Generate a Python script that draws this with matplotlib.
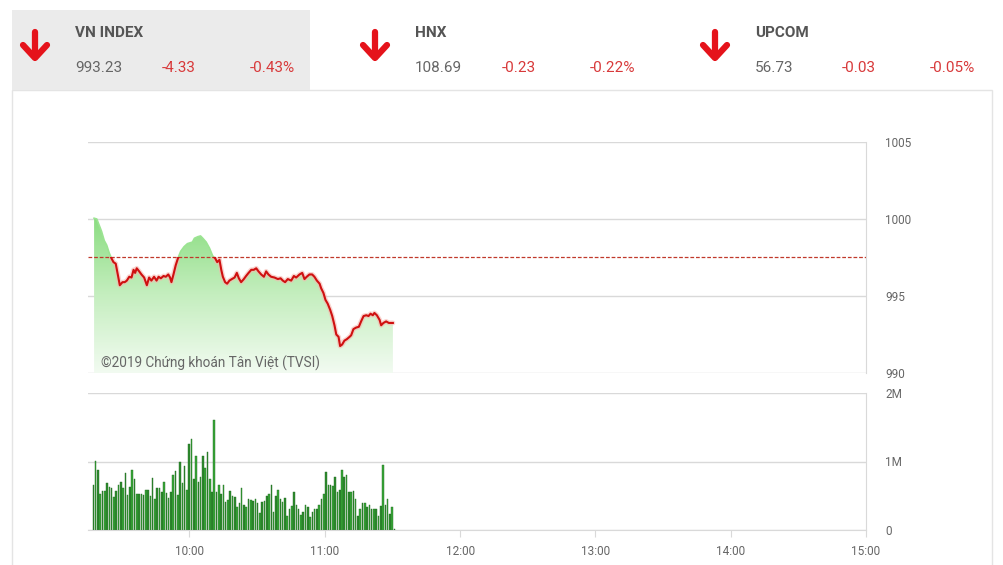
import matplotlib.pyplot as plt
import numpy as np
from matplotlib.patches import Rectangle, Polygon
from matplotlib.lines import Line2D
from matplotlib.colors import LinearSegmentedColormap

plt.rcParams['font.family'] = ['Roboto', 'DejaVu Sans']

# header boxes
idx_names = ['VN INDEX', 'HNX', 'UPCOM']
idx_values = ['993.23', '108.69', '56.73']
idx_changes = ['-4.33', '-0.23', '-0.03']
idx_pcts = ['-0.43%', '-0.22%', '-0.05%']

ref_price = 997.56

# price line (minutes since 9:00, index value)
price_time = [17.7, 18.9, 19.95, 21.0, 22.2, 23.3, 24.4, 25.4, 26.3, 27.3, 28.4, 29.1,
              30.3, 31.3, 32.2, 33.3, 34.3, 35.2, 35.9, 36.6, 37.7, 38.7, 39.9, 41.1,
              42.1, 43.1, 44.3, 45.4, 46.3, 47.3, 48.5, 49.5, 50.6, 51.4, 52.0, 52.9,
              53.9, 55.0, 56.1, 57.6, 59.1, 61.3, 62.2, 63.7, 64.9, 65.9, 67.4, 68.9,
              70.3, 71.4, 72.3, 73.3, 74.1, 74.8, 75.8, 76.7, 77.7, 78.8, 80.0, 81.0,
              81.9, 82.9, 84.1, 85.1, 86.2, 87.4, 88.5, 89.6, 90.6, 91.8, 93.0, 94.0,
              95.0, 96.2, 97.7, 99.2, 100.4, 101.4, 102.4, 103.6, 105.1, 106.3, 107.3,
              108.8, 110.0, 111.0, 112.0, 113.2, 114.4, 115.4, 116.5, 117.7, 118.4,
              119.4, 120.3, 121.3, 122.4, 123.3, 124.3, 125.1, 126.1, 126.8, 127.7,
              128.7, 129.8, 131.0, 131.7, 132.7, 133.9, 135.1, 136.1, 137.2, 138.4,
              139.4, 140.3, 141.3, 142.0, 143.1, 144.3, 145.0, 146.0, 147.2, 148.4, 150.2]
price_val = [1000.05, 1000.0, 999.6, 999.2, 998.6, 998.3, 997.8, 997.45, 997.2, 997.1, 996.25, 995.7,
             995.9, 995.9, 996.0, 996.25, 996.2, 996.7, 996.5, 996.8, 996.6, 996.4, 996.2, 995.7,
             996.2, 996.0, 996.25, 996.0, 996.25, 996.15, 996.3, 996.25, 996.4, 996.2, 995.9, 996.4,
             997.0, 997.5, 997.9, 998.2, 998.4, 998.5, 998.75, 998.85, 998.9, 998.75, 998.5, 998.1,
             997.6, 997.45, 997.2, 997.35, 996.7, 996.25, 995.9, 995.8, 996.0, 996.1, 996.2, 996.5,
             996.15, 995.9, 996.1, 996.3, 996.5, 996.7, 996.7, 996.8, 996.6, 996.4, 996.25, 996.6,
             996.4, 996.25, 996.2, 996.1, 996.15, 996.0, 995.9, 996.1, 996.0, 996.3, 996.2,
             996.4, 996.5, 996.1, 996.25, 996.4, 996.4, 996.25, 996.0, 995.8, 995.5,
             995.2, 994.75, 994.5, 994.1, 993.7, 993.1, 992.5, 992.35, 991.75, 991.85,
             992.1, 992.2, 992.35, 992.45, 992.85, 992.95, 993.0, 993.35, 993.7, 993.75,
             993.7, 993.85, 993.75, 993.9, 993.75, 993.45, 993.1, 993.25, 993.35, 993.25, 993.25]

# volume bars (millions), 9:17 -> 11:30
volume = [0.65, 1.01, 0.88, 0.53, 0.57, 0.57, 0.69, 0.63, 0.61, 0.48, 0.57, 0.66, 0.70,
          0.61, 0.83, 0.51, 0.63, 0.88, 0.74, 0.53, 0.52, 0.53, 0.51, 0.59, 0.59, 0.50,
          0.76, 0.45, 0.61, 0.61, 0.55, 0.70, 0.54, 0.47, 0.56, 0.80, 0.86, 0.51, 1.00,
          0.69, 0.94, 0.59, 1.26, 1.33, 0.74, 1.08, 0.70, 0.78, 1.08, 0.91, 1.14, 0.74,
          0.55, 1.60, 0.56, 0.66, 0.53, 0.65, 0.41, 0.44, 0.57, 0.49, 0.48, 0.33, 0.39,
          0.61, 0.37, 0.33, 0.45, 0.44, 0.42, 0.45, 0.39, 0.25, 0.41, 0.42, 0.50, 0.53,
          0.66, 0.27, 0.49, 0.59, 0.45, 0.41, 0.47, 0.21, 0.31, 0.35, 0.55, 0.37, 0.31,
          0.22, 0.26, 0.36, 0.34, 0.19, 0.27, 0.30, 0.30, 0.37, 0.45, 0.53, 0.85, 0.66,
          0.66, 0.64, 0.78, 0.55, 0.58, 0.87, 0.78, 0.81, 0.55, 0.56, 0.57, 0.45, 0.21,
          0.30, 0.40, 0.40, 0.33, 0.37, 0.31, 0.30, 0.30, 0.21, 0.35, 0.95, 0.36, 0.45,
          0.23, 0.34, 0.02]
vol_start, vol_end = 17.4, 150.9

time_ticks = [60, 120, 180, 240, 300, 360]
time_labels = ['10:00', '11:00', '12:00', '13:00', '14:00', '15:00']
price_ticks = [990, 995, 1000, 1005]
vol_ticks = [0, 1, 2]
vol_labels = ['0', '1M', '2M']

W, H = 1004, 565
fig = plt.figure(figsize=(W / 100, H / 100), dpi=100)


def fx(px):
    return px / W


def fy(py):
    return 1 - py / H


# panel frame + header
fig.add_artist(Rectangle((fx(12), fy(566)), fx(980), (566 - 90) / H, transform=fig.transFigure,
                         fill=False, ec='#e4e4e4', lw=1))
fig.add_artist(Rectangle((fx(12), fy(90)), fx(298), 80 / H, transform=fig.transFigure,
                         fc='#ebebeb', ec='none'))

red_arrow = '#e5131b'
for i in range(3):
    x0 = 35 + 340 * i
    fig.add_artist(Line2D([fx(x0), fx(x0)], [fy(32), fy(57)], lw=4.5, color=red_arrow,
                          solid_capstyle='round', transform=fig.transFigure))
    fig.add_artist(Line2D([fx(x0 - 12), fx(x0), fx(x0 + 12)], [fy(45), fy(58), fy(45)], lw=4.5,
                          color=red_arrow, solid_capstyle='round', solid_joinstyle='round',
                          transform=fig.transFigure))
    tx = 75 + 340 * i
    fig.text(fx(tx), fy(33), idx_names[i], fontsize=11, fontweight='bold', color='#555555',
             va='center', ha='left')
    fig.text(fx(tx), fy(68), idx_values[i], fontsize=11, color='#666666', va='center', ha='left')
    fig.text(fx(tx + 87), fy(68), idx_changes[i], fontsize=11, color='#d8393a', va='center', ha='left')
    fig.text(fx(tx + 175), fy(68), idx_pcts[i], fontsize=11, color='#d8393a', va='center', ha='left')

grid_c = '#d9d9d9'
tick_c = '#666666'

# price panel
ax = fig.add_axes([fx(88), fy(373), fx(866 - 88), (373 - 142) / H])
ax.set_xlim(15, 360)
ax.set_ylim(990, 1005)
pt = np.array(price_time)
pv = np.array(price_val)

# gradient fill under the line
green_cmap = LinearSegmentedColormap.from_list('g', ['#f2fbf1', '#c4eebe', '#88dc7e'])
grad = np.linspace(0, 1, 256).reshape(-1, 1)
im = ax.imshow(grad, cmap=green_cmap, aspect='auto', origin='lower',
               extent=[pt[0], pt[-1], 990, 1000.3], zorder=1)
poly = Polygon(np.vstack([[pt[0], 990], np.column_stack([pt, pv]), [pt[-1], 990]]),
               closed=True, fc='none', ec='none')
ax.add_patch(poly)
im.set_clip_path(poly)

for y in price_ticks:
    ax.axhline(y, color=grid_c, lw=1, zorder=0.5)
ax.axhline(ref_price, color='#c0392b', lw=0.9, ls=(0, (3, 1.5)), zorder=3)

below = Rectangle((0, 980), 400, ref_price - 980, transform=ax.transData)
above = Rectangle((0, ref_price), 400, 30, transform=ax.transData)
glow, = ax.plot(pt, pv, color='#f6b8b0', lw=3.5, alpha=0.6, zorder=2, solid_capstyle='round')
glow.set_clip_path(below)
red, = ax.plot(pt, pv, color='#cf1010', lw=1.5, zorder=4)
red.set_clip_path(below)
grn, = ax.plot(pt, pv, color='#9be492', lw=1.2, zorder=2)
grn.set_clip_path(above)

fig.text(fx(101), fy(363), '©2019 Chứng khoán Tân Việt (TVSI)', fontsize=9.8, color='#666666',
         va='center', ha='left')

ax.set_yticks(price_ticks)
ax.yaxis.tick_right()
ax.tick_params(axis='y', length=0, pad=14, labelsize=8.5, labelcolor=tick_c)
ax.set_xticks([])
for s in ['left', 'top', 'bottom']:
    ax.spines[s].set_visible(False)
ax.spines['right'].set_color(grid_c)

# volume panel
axv = fig.add_axes([fx(88), fy(530), fx(866 - 88), (530 - 393) / H])
axv.set_xlim(15, 360)
axv.set_ylim(0, 2)
vt = np.linspace(vol_start, vol_end, len(volume))
bar_cols = ['#2e8b2e' if i % 2 == 0 else '#38a838' for i in range(len(volume))]
axv.bar(vt, volume, width=0.7, color=bar_cols, edgecolor='#226b22', linewidth=0.3, zorder=2)
for y in vol_ticks:
    axv.axhline(y, color=grid_c, lw=1, zorder=0.5)
axv.set_yticks(vol_ticks)
axv.set_yticklabels(vol_labels)
axv.yaxis.tick_right()
axv.tick_params(axis='y', length=0, pad=14, labelsize=8.5, labelcolor=tick_c)
axv.set_xticks(time_ticks)
axv.set_xticklabels(time_labels)
axv.tick_params(axis='x', length=5, color=grid_c, labelsize=8.5, labelcolor=tick_c, pad=6)
for s in ['left', 'top']:
    axv.spines[s].set_visible(False)
axv.spines['right'].set_color(grid_c)
axv.spines['bottom'].set_color(grid_c)

fig.savefig('out.png', dpi=100)
